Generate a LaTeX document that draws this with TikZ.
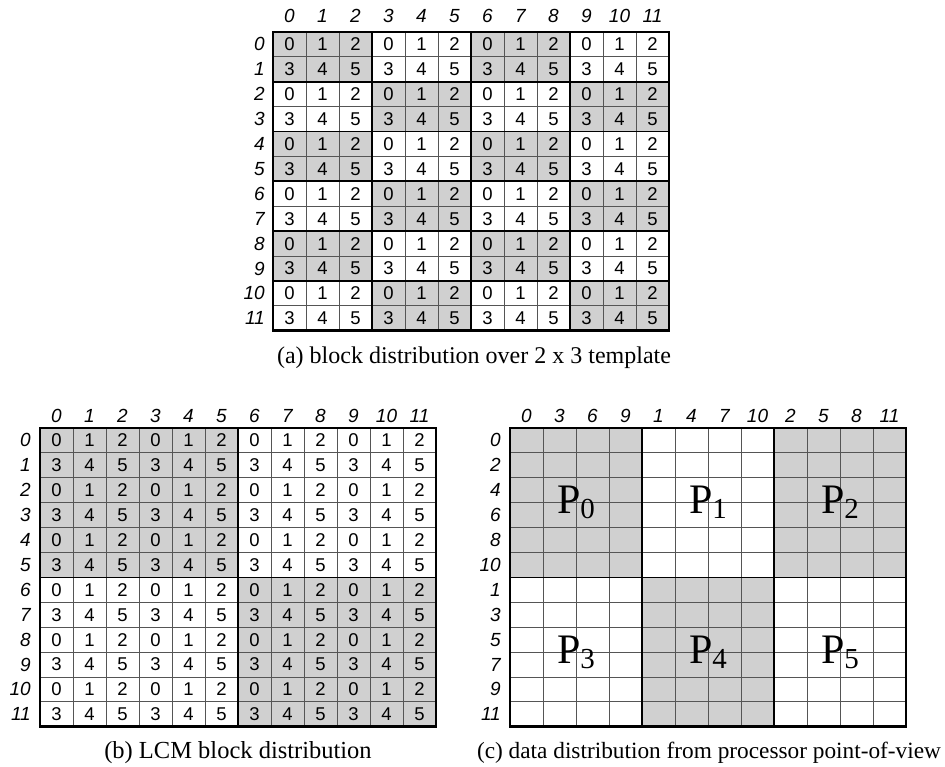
\documentclass[tikz,border=0pt]{standalone}
\usepackage{fontspec}
\setmainfont{Liberation Serif}
\setsansfont{Liberation Sans}
\definecolor{cellgray}{RGB}{208,208,208}
\definecolor{gridline}{RGB}{85,85,85}
\begin{document}
\begin{tikzpicture}[x=1pt,y=-1pt,
  cell/.style={font=\fontsize{18.5}{18.5}\selectfont\sffamily, inner sep=0pt},
  idx/.style={font=\fontsize{19}{19}\selectfont\sffamily\itshape, inner sep=0pt},
  caption/.style={font=\fontsize{24}{24}\selectfont\rmfamily, inner sep=0pt, anchor=base},
  proc/.style={font=\fontsize{42}{42}\selectfont\rmfamily, inner sep=0pt},
  thin grid/.style={draw=gridline, line width=0.9pt},
  block line/.style={draw=black, line width=1.8pt},
  outer frame/.style={draw=black, line width=2.8pt}]
\useasboundingbox[fill=white] (0,0) rectangle (945,767);
\def\cw{33}
\def\ch{24.9}
\newcommand{\procname}[1]{P\raisebox{-5pt}{\fontsize{29}{29}\selectfont #1}}

% ---------- (a) block distribution over a 2 x 3 template ----------
\begin{scope}[shift={(273,32)}]
  \foreach \bi in {0,...,5} \foreach \bj in {0,...,3} {
    \pgfmathtruncatemacro\checker{mod(\bi+\bj,2)}
    \ifnum\checker=0 \fill[cellgray] ({\bj*3*\cw},{\bi*2*\ch}) rectangle ++({3*\cw},{2*\ch}); \fi
  }
  \foreach \k in {1,...,11} {
    \draw[thin grid] ({\k*\cw},0) -- ({\k*\cw},{12*\ch});
    \draw[thin grid] (0,{\k*\ch}) -- ({12*\cw},{\k*\ch});
  }
  \foreach \k in {3,6,9} \draw[block line] ({\k*\cw},0) -- ({\k*\cw},{12*\ch});
  \foreach \k in {2,4,6,8,10} \draw[block line] (0,{\k*\ch}) -- ({12*\cw},{\k*\ch});
  \draw[outer frame] (0,0) rectangle ({12*\cw},{12*\ch});
  \foreach \i in {0,...,11} \foreach \j in {0,...,11} {
    \pgfmathtruncatemacro\v{3*mod(\i,2)+mod(\j,3)}
    \node[cell] (a-\i-\j) at ({(\j+0.5)*\cw},{(\i+0.5)*\ch}) {\v};
  }
  \foreach \j in {0,...,11} \node[idx] (a-col-\j) at ({(\j+0.5)*\cw},-16) {\j};
  \foreach \i in {0,...,11} \node[idx, anchor=east] (a-row-\i) at (-8,{(\i+0.5)*\ch}) {\i};
\end{scope}
\node[caption] (cap-a) at (474,363) {(a) block distribution over 2 x 3 template};

% ---------- (b) LCM block distribution ----------
\begin{scope}[shift={(40,428)}]
  \fill[cellgray] (0,0) rectangle ({6*\cw},{6*\ch});
  \fill[cellgray] ({6*\cw},{6*\ch}) rectangle ({12*\cw},{12*\ch});
  \foreach \k in {1,...,11} {
    \draw[thin grid] ({\k*\cw},0) -- ({\k*\cw},{12*\ch});
    \draw[thin grid] (0,{\k*\ch}) -- ({12*\cw},{\k*\ch});
  }
  \draw[block line] ({6*\cw},0) -- ({6*\cw},{12*\ch});
  \draw[block line] (0,{6*\ch}) -- ({12*\cw},{6*\ch});
  \draw[outer frame] (0,0) rectangle ({12*\cw},{12*\ch});
  \foreach \i in {0,...,11} \foreach \j in {0,...,11} {
    \pgfmathtruncatemacro\v{3*mod(\i,2)+mod(\j,3)}
    \node[cell] (b-\i-\j) at ({(\j+0.5)*\cw},{(\i+0.5)*\ch}) {\v};
  }
  \foreach \j in {0,...,11} \node[idx] (b-col-\j) at ({(\j+0.5)*\cw},-12) {\j};
  \foreach \i in {0,...,11} \node[idx, anchor=east] (b-row-\i) at (-9,{(\i+0.5)*\ch}) {\i};
\end{scope}
\node[caption, font=\fontsize{24.5}{24.5}\selectfont\rmfamily] (cap-b) at (238,758) {(b) LCM block distribution};

% ---------- (c) data distribution from processor point-of-view ----------
\begin{scope}[shift={(510,428)}]
  \fill[cellgray] (0,0) rectangle ({4*\cw},{6*\ch});
  \fill[cellgray] ({8*\cw},0) rectangle ({12*\cw},{6*\ch});
  \fill[cellgray] ({4*\cw},{6*\ch}) rectangle ({8*\cw},{12*\ch});
  \foreach \k in {1,...,11} {
    \draw[thin grid] ({\k*\cw},0) -- ({\k*\cw},{12*\ch});
    \draw[thin grid] (0,{\k*\ch}) -- ({12*\cw},{\k*\ch});
  }
  \foreach \k in {4,8} \draw[block line] ({\k*\cw},0) -- ({\k*\cw},{12*\ch});
  \draw[block line] (0,{6*\ch}) -- ({12*\cw},{6*\ch});
  \draw[outer frame] (0,0) rectangle ({12*\cw},{12*\ch});
  \foreach \lab [count=\j from 0] in {0,3,6,9,1,4,7,10,2,5,8,11}
    \node[idx] (c-col-\j) at ({(\j+0.5)*\cw},-12) {\lab};
  \foreach \lab [count=\i from 0] in {0,2,4,6,8,10,1,3,5,7,9,11}
    \node[idx, anchor=east] (c-row-\i) at (-9,{(\i+0.5)*\ch}) {\lab};
  \foreach \p in {0,...,5} {
    \pgfmathtruncatemacro\pr{int(\p/3)}
    \pgfmathtruncatemacro\pc{mod(\p,3)}
    \node[proc] (proc-\p) at ({(\pc*4+2)*\cw},{(\pr*6+3)*\ch}) {\procname{\p}};
  }
\end{scope}
\node[caption, font=\fontsize{23.3}{23.3}\selectfont\rmfamily] (cap-c) at (709,758) {(c) data distribution from processor point-of-view};
\end{tikzpicture}
\end{document}
